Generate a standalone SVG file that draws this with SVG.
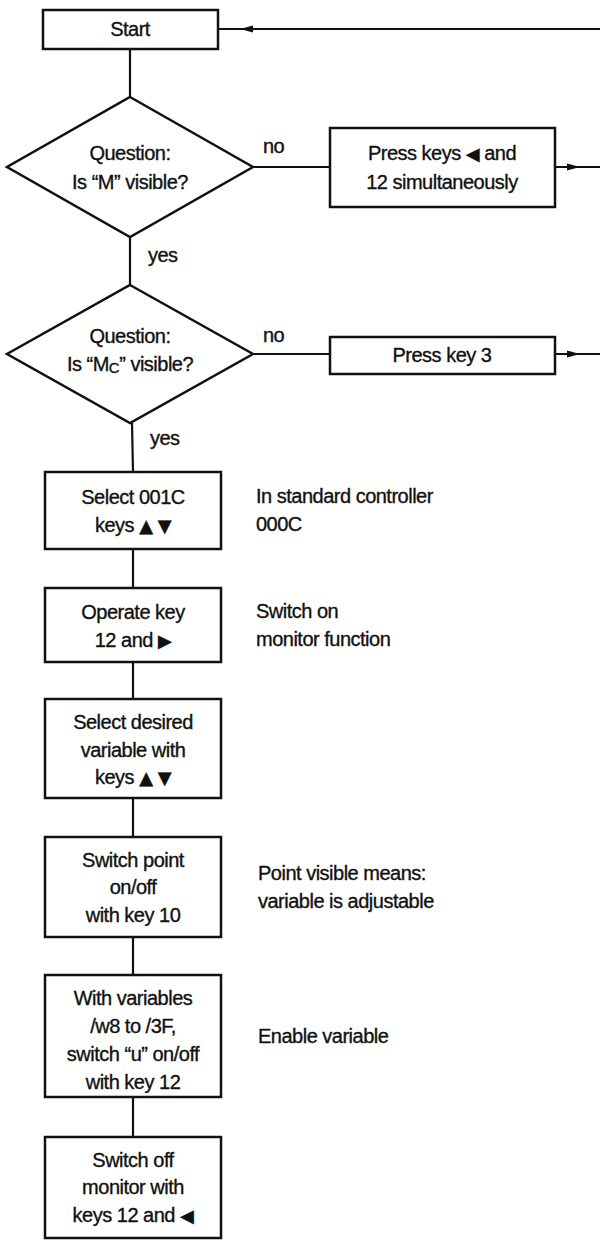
<svg xmlns="http://www.w3.org/2000/svg" width="600" height="1240" viewBox="0 0 600 1240">
<style>
.box{fill:#fff;stroke:#111;stroke-width:2.5}
.ln{fill:none;stroke:#111;stroke-width:2.2}
.ah{fill:#111;stroke:none}
text{font-family:"Liberation Sans",Arial,sans-serif;font-size:20px;fill:#111;stroke:#111;stroke-width:0.35;letter-spacing:-0.5px}
.c{text-anchor:middle}
.k{font-family:"DejaVu Sans",sans-serif;font-size:18px}
</style>
<rect width="600" height="1240" fill="#fff"/>
<g id="connectors">
<polyline class="ln" points="218,29 600,29"/>
<polygon class="ah" points="240,29 253,25.5 253,32.5"/>
<line class="ln" x1="130" y1="49" x2="130" y2="97"/>
<line class="ln" x1="253" y1="167" x2="330" y2="167"/>
<line class="ln" x1="555" y1="167" x2="600" y2="167"/>
<polygon class="ah" points="580,167 567,163.5 567,170.5"/>
<line class="ln" x1="130" y1="237" x2="130" y2="285"/>
<line class="ln" x1="253" y1="354" x2="330" y2="354"/>
<line class="ln" x1="555" y1="354" x2="600" y2="354"/>
<polygon class="ah" points="580,354 567,350.5 567,357.5"/>
<line class="ln" x1="132" y1="423" x2="133" y2="472"/>
<line class="ln" x1="133" y1="549" x2="133" y2="588"/>
<line class="ln" x1="133" y1="662" x2="133" y2="699"/>
<line class="ln" x1="133" y1="798" x2="133" y2="837"/>
<line class="ln" x1="133" y1="937" x2="133" y2="975"/>
<line class="ln" x1="133" y1="1097" x2="133" y2="1137"/>
<text x="263" y="153">no</text>
<text x="148" y="262">yes</text>
<text x="263" y="342">no</text>
<text x="150" y="445">yes</text>
</g>
<g id="start">
<rect class="box" x="43" y="10" width="175" height="39"/>
<text class="c" x="130" y="36">Start</text>
</g>
<g id="q1">
<polygon class="box" points="130,97 253,167 130,237 7,167"/>
<text class="c" x="130" y="160">Question:</text>
<text class="c" x="130" y="189">Is “M” visible?</text>
</g>
<g id="press-keys">
<rect class="box" x="330" y="128" width="225" height="79"/>
<text class="c" x="442" y="160">Press keys <tspan class="k">◀</tspan> and</text>
<text class="c" x="442" y="189">12 simultaneously</text>
</g>
<g id="q2">
<polygon class="box" points="130,285 253,354 130,423 7,354"/>
<text class="c" x="130" y="343">Question:</text>
<text class="c" x="130" y="371">Is “M<tspan font-size="15" dy="2">C</tspan><tspan dy="-2">” visible?</tspan></text>
</g>
<g id="press-key-3">
<rect class="box" x="330" y="337" width="225" height="37"/>
<text class="c" x="442" y="362">Press key 3</text>
</g>
<g id="select-001c">
<rect class="box" x="45" y="472" width="176" height="77"/>
<text class="c" x="133" y="504">Select 001C</text>
<text class="c" x="133" y="532">keys <tspan class="k">▲ ▼</tspan></text>
</g>
<g id="note-standard">
<text x="256" y="503">In standard controller</text>
<text x="256" y="531">000C</text>
</g>
<g id="operate-key">
<rect class="box" x="45" y="588" width="176" height="74"/>
<text class="c" x="133" y="619">Operate key</text>
<text class="c" x="133" y="647">12 and <tspan class="k">▶</tspan></text>
</g>
<g id="note-monitor">
<text x="256" y="618">Switch on</text>
<text x="256" y="646">monitor function</text>
</g>
<g id="select-variable">
<rect class="box" x="45" y="699" width="176" height="99"/>
<text class="c" x="133" y="729">Select desired</text>
<text class="c" x="133" y="757">variable with</text>
<text class="c" x="133" y="784">keys <tspan class="k">▲ ▼</tspan></text>
</g>
<g id="switch-point">
<rect class="box" x="45" y="837" width="176" height="100"/>
<text class="c" x="133" y="867">Switch point</text>
<text class="c" x="133" y="894">on/off</text>
<text class="c" x="133" y="922">with key 10</text>
</g>
<g id="note-point">
<text x="258" y="880">Point visible means:</text>
<text x="258" y="908">variable is adjustable</text>
</g>
<g id="with-variables">
<rect class="box" x="45" y="975" width="176" height="122"/>
<text class="c" x="133" y="1005">With variables</text>
<text class="c" x="133" y="1033">/w8 to /3F,</text>
<text class="c" x="133" y="1061">switch “u” on/off</text>
<text class="c" x="133" y="1089">with key 12</text>
</g>
<g id="note-enable">
<text x="258" y="1043">Enable variable</text>
</g>
<g id="switch-off">
<rect class="box" x="45" y="1137" width="176" height="101"/>
<text class="c" x="133" y="1167">Switch off</text>
<text class="c" x="133" y="1194">monitor with</text>
<text class="c" x="133" y="1222">keys 12 and <tspan class="k">◀</tspan></text>
</g>
</svg>
